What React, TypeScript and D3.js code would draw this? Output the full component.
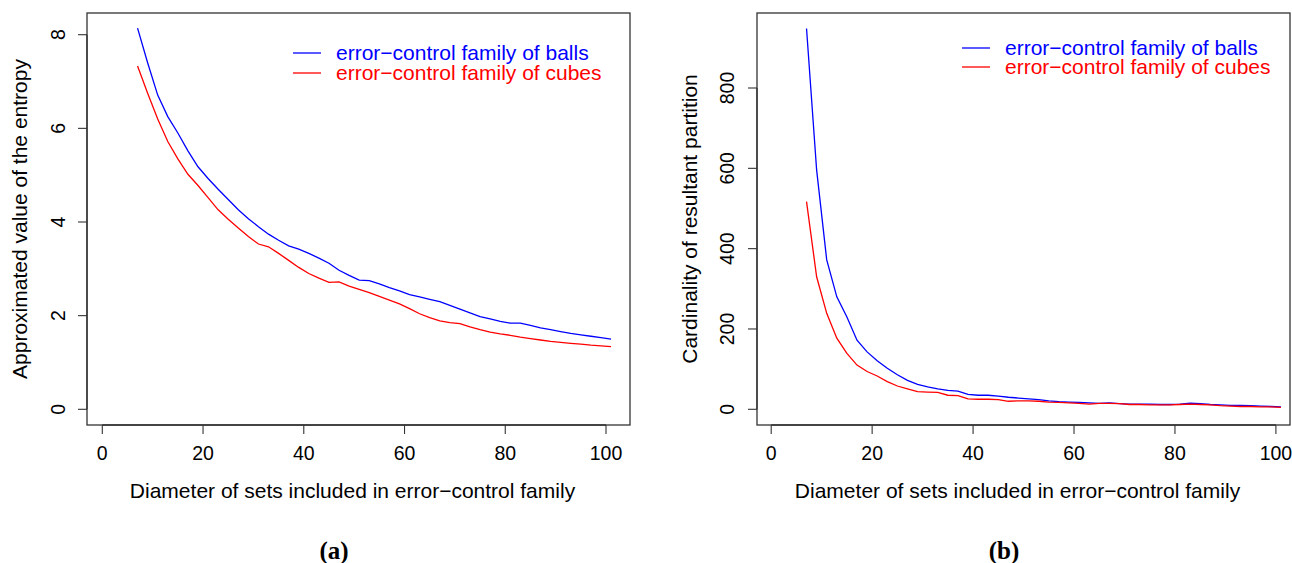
import { useRef, useEffect } from 'react';
import * as d3 from 'd3';

// diameters of the sets in the error-control family (x axis of both panels)
const diameters = [
  7, 9, 11, 13, 15, 17, 19, 21, 23, 25, 27, 29, 31, 33, 35, 37, 39, 41, 43, 45, 47, 49, 51, 53,
  55, 57, 59, 61, 63, 65, 67, 69, 71, 73, 75, 77, 79, 81, 83, 85, 87, 89, 91, 93, 95, 97, 99, 101,
];

// (a) approximated entropy
const entropyBalls = [
  8.14, 7.4, 6.71, 6.25, 5.9, 5.52, 5.18, 4.93, 4.7, 4.48, 4.26, 4.07, 3.9, 3.74, 3.61, 3.49,
  3.42, 3.33, 3.23, 3.12, 2.97, 2.86, 2.76, 2.75, 2.68, 2.6, 2.53, 2.45, 2.4, 2.35, 2.3, 2.22,
  2.14, 2.06, 1.98, 1.93, 1.88, 1.84, 1.84, 1.79, 1.74, 1.7, 1.66, 1.62, 1.59, 1.56, 1.53, 1.5,
];
const entropyCubes = [
  7.33, 6.75, 6.2, 5.72, 5.35, 5.02, 4.78, 4.52, 4.26, 4.06, 3.87, 3.69, 3.53, 3.47, 3.33, 3.18,
  3.03, 2.9, 2.8, 2.71, 2.72, 2.63, 2.56, 2.49, 2.41, 2.33, 2.25, 2.15, 2.04, 1.96, 1.89, 1.85,
  1.83, 1.76, 1.7, 1.65, 1.61, 1.58, 1.54, 1.51, 1.48, 1.45, 1.43, 1.41, 1.39, 1.37, 1.355, 1.34,
];

// (b) cardinality of resultant partition
const cardBalls = [
  948, 596, 372, 280, 230, 172, 143, 121, 102, 86, 72, 62, 56, 51, 47, 45, 37, 35, 35, 33, 30, 28,
  26, 24, 21, 19, 18, 17, 16, 15, 16, 14, 13, 13, 13, 12, 12, 13, 15, 14, 12, 11, 10, 10, 9, 8, 7, 6,
];
const cardCubes = [
  517, 330, 239, 177, 139, 110, 94, 83, 69, 58, 51, 44, 43, 42, 35, 34, 26, 25, 25, 24, 20, 21,
  21, 20, 18, 17, 16, 15, 13, 15, 15, 14, 12, 12, 11, 11, 11, 12, 13, 12, 11, 9, 8, 7, 7, 6, 6, 5,
];

const xTicks = [0, 20, 40, 60, 80, 100];
const entropyTicks = [0, 2, 4, 6, 8];
const cardTicks = [0, 200, 400, 600, 800];
const legendLabels = ['error\u2212control family of balls', 'error\u2212control family of cubes'];
const xTitle = 'Diameter of sets included in error\u2212control family';

const SANS = "'Liberation Sans', Arial, Helvetica, sans-serif";
const SERIF = "'Liberation Serif', 'Times New Roman', serif";
const TICK_FS = 19.5;
const FS = 21;

interface Panel {
  box: [number, number, number, number]; // left, top, right, bottom
  xRange: [number, number];
  yDomain: [number, number];
  yRange: [number, number];
  yTicks: number[];
  balls: number[];
  cubes: number[];
  yTitle: string;
  yTitleX: number;
  yTickX: number;
  legend: { x1: number; x2: number; tx: number; y: number[] };
  tag: string;
  tagX: number;
}

const panels: Panel[] = [
  {
    box: [87, 13, 630, 425],
    xRange: [102.3, 606],
    yDomain: [0, 8],
    yRange: [409.3, 34.7],
    yTicks: entropyTicks,
    balls: entropyBalls,
    cubes: entropyCubes,
    yTitle: 'Approximated value of the entropy',
    yTitleX: 20,
    yTickX: 58,
    legend: { x1: 293, x2: 321, tx: 336, y: [53, 73] },
    tag: '(a)',
    tagX: 334,
  },
  {
    box: [757, 13, 1290, 425],
    xRange: [771.2, 1275.9],
    yDomain: [0, 800],
    yRange: [409.3, 88],
    yTicks: cardTicks,
    balls: cardBalls,
    cubes: cardCubes,
    yTitle: 'Cardinality of resultant partition',
    yTitleX: 690,
    yTickX: 727,
    legend: { x1: 962, x2: 990, tx: 1005, y: [48, 67] },
    tag: '(b)',
    tagX: 1004,
  },
];

export default function App() {
  const svgRef = useRef<SVGSVGElement>(null);

  useEffect(() => {
    const svg = d3.select(svgRef.current);
    svg.selectAll('*').remove();

    svg.append('rect').attr('width', 1292).attr('height', 563).attr('fill', '#fff');

    panels.forEach((p) => {
      const g = svg.append('g');
      const x = d3.scaleLinear().domain([0, 100]).range(p.xRange);
      const y = d3.scaleLinear().domain(p.yDomain).range(p.yRange);
      const [bl, bt, br, bb] = p.box;

      // plot box
      g.append('rect')
        .attr('x', bl)
        .attr('y', bt)
        .attr('width', br - bl)
        .attr('height', bb - bt)
        .attr('fill', 'none')
        .attr('stroke', '#333')
        .attr('stroke-width', 1.3);

      // x axis
      g.append('line')
        .attr('x1', x(0)).attr('x2', x(100))
        .attr('y1', bb).attr('y2', bb)
        .attr('stroke', '#333').attr('stroke-width', 1.3);
      g.selectAll('.xtick')
        .data(xTicks)
        .join('line')
        .attr('x1', (d) => x(d)).attr('x2', (d) => x(d))
        .attr('y1', bb).attr('y2', bb + 9)
        .attr('stroke', '#333').attr('stroke-width', 1.1);
      g.selectAll('.xlab')
        .data(xTicks)
        .join('text')
        .attr('x', (d) => x(d))
        .attr('y', 453)
        .attr('dy', '0.35em')
        .attr('text-anchor', 'middle')
        .attr('font-family', SANS)
        .attr('font-size', TICK_FS)
        .attr('fill', '#000')
        .text((d) => String(d));

      // y axis
      g.append('line')
        .attr('x1', bl).attr('x2', bl)
        .attr('y1', y(p.yTicks[0])).attr('y2', y(p.yTicks[p.yTicks.length - 1]))
        .attr('stroke', '#333').attr('stroke-width', 1.3);
      g.selectAll('.ytick')
        .data(p.yTicks)
        .join('line')
        .attr('x1', bl - 9).attr('x2', bl)
        .attr('y1', (d) => y(d)).attr('y2', (d) => y(d))
        .attr('stroke', '#333').attr('stroke-width', 1.1);
      g.selectAll('.ylab')
        .data(p.yTicks)
        .join('text')
        .attr('transform', (d) => `translate(${p.yTickX},${y(d)}) rotate(-90)`)
        .attr('dy', '0.35em')
        .attr('text-anchor', 'middle')
        .attr('font-family', SANS)
        .attr('font-size', TICK_FS)
        .attr('fill', '#000')
        .text((d) => String(d));

      // titles
      g.append('text')
        .attr('x', (bl + br) / 2 - 6)
        .attr('y', 491)
        .attr('dy', '0.35em')
        .attr('text-anchor', 'middle')
        .attr('font-family', SANS)
        .attr('font-size', FS)
        .text(xTitle);
      g.append('text')
        .attr('transform', `translate(${p.yTitleX},${(bt + bb) / 2}) rotate(-90)`)
        .attr('dy', '0.35em')
        .attr('text-anchor', 'middle')
        .attr('font-family', SANS)
        .attr('font-size', FS)
        .text(p.yTitle);
      g.append('text')
        .attr('x', p.tagX)
        .attr('y', 550)
        .attr('dy', '0.35em')
        .attr('text-anchor', 'middle')
        .attr('font-family', SERIF)
        .attr('font-weight', 'bold')
        .attr('font-size', 25)
        .text(p.tag);

      // series
      const line = d3
        .line<number>()
        .x((_d, i) => x(diameters[i]))
        .y((d) => y(d));
      const series = [
        { values: p.balls, color: '#0000ff' },
        { values: p.cubes, color: '#ff0000' },
      ];
      series.forEach((s, i) => {
        g.append('path')
          .attr('d', line(s.values))
          .attr('fill', 'none')
          .attr('stroke', s.color)
          .attr('stroke-width', 1.3);

        // legend
        g.append('line')
          .attr('x1', p.legend.x1).attr('x2', p.legend.x2)
          .attr('y1', p.legend.y[i]).attr('y2', p.legend.y[i])
          .attr('stroke', s.color)
          .attr('stroke-width', 1.3);
        g.append('text')
          .attr('x', p.legend.tx)
          .attr('y', p.legend.y[i])
          .attr('dy', '0.35em')
          .attr('font-family', SANS)
          .attr('font-size', FS)
          .attr('fill', s.color)
          .text(legendLabels[i]);
      });
    });
  }, []);

  return (
    <svg
      ref={svgRef}
      width={1292}
      height={563}
      viewBox="0 0 1292 563"
      style={{ position: 'absolute', left: 0, top: 0, display: 'block' }}
    />
  );
}
